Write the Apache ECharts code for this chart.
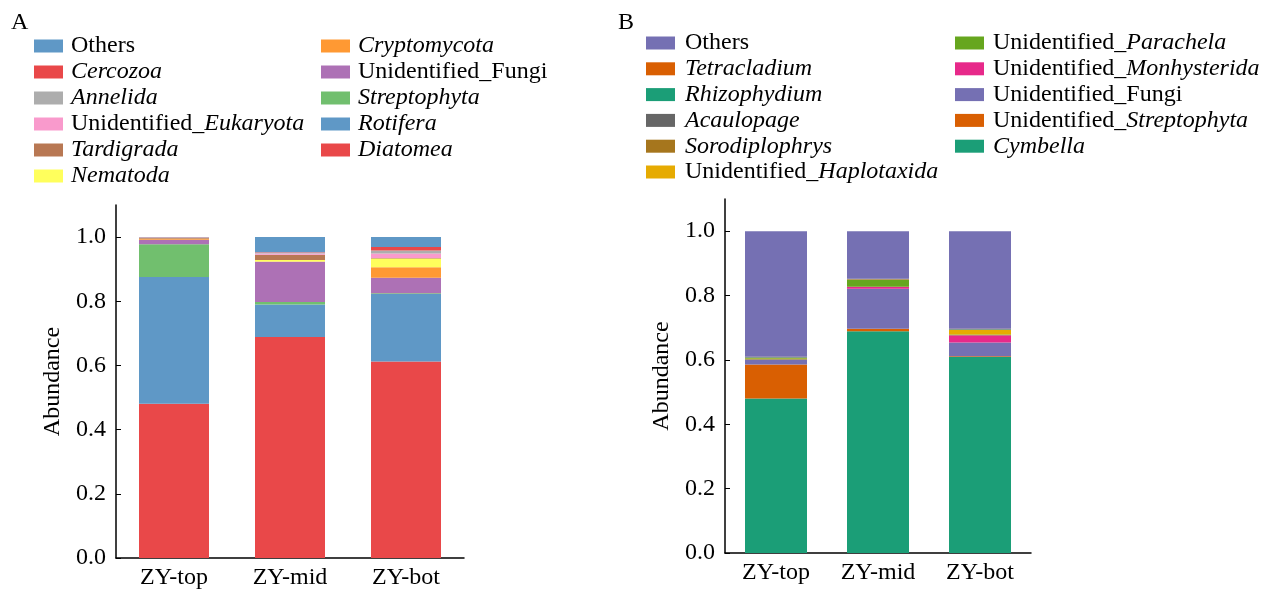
<!DOCTYPE html>
<html>
<head>
<meta charset="utf-8">
<script src="https://cdn.jsdelivr.net/npm/echarts@6/dist/echarts.min.js"></script>
<style>
  html, body { margin: 0; padding: 0; background: #fff; }
  #wrap { position: relative; width: 1262px; height: 590px; }
  #chartA { position: absolute; left: 0; top: 0; width: 610px; height: 590px; }
  #chartB { position: absolute; left: 600px; top: 0; width: 662px; height: 590px; }
</style>
</head>
<body>
<div id="wrap">
  <div id="chartA"></div>
  <div id="chartB"></div>
</div>
<script>
// Sampling layers
const samples = ['ZY-top', 'ZY-mid', 'ZY-bot'];
const yTicks = [0, 0.2, 0.4, 0.6, 0.8, 1.0];

// Panel A: phylum-level relative abundance (bottom of stack first)
const aDiatomea      = [0.481, 0.689, 0.612];
const aRotifera      = [0.395, 0.101, 0.211];
const aStreptophyta  = [0.102, 0.008, 0.002];
const aUnidFungi     = [0.014, 0.125, 0.048];
const aCryptomycota  = [0.002, 0.001, 0.033];
const aNematoda      = [0.001, 0.005, 0.027];
const aTardigrada    = [0.002, 0.016, 0.002];
const aUnidEukaryota = [0.001, 0.004, 0.014];
const aAnnelida      = [0.0005, 0.002, 0.009];
const aCercozoa      = [0.001, 0.002, 0.011];
const aOthers        = [0.0005, 0.047, 0.031];

// Panel B: genus-level relative abundance (bottom of stack first)
const bCymbella          = [0.480, 0.689, 0.609];
const bUnidStreptophyta  = [0.106, 0.008, 0.002];
const bUnidFungi         = [0.014, 0.124, 0.043];
const bUnidMonhysterida  = [0.001, 0.006, 0.023];
const bUnidParachela     = [0.004, 0.021, 0.002];
const bUnidHaplotaxida   = [0.001, 0.001, 0.014];
const bSorodiplophrys    = [0.001, 0.002, 0.001];
const bAcaulopage        = [0.001, 0.001, 0.001];
const bRhizophydium      = [0.001, 0.000, 0.001];
const bTetracladium      = [0.001, 0.000, 0.001];
const bOthers            = [0.390, 0.148, 0.303];

// Stack order (bottom to top) with names and colours
const seriesA = [
  ['Diatomea', aDiatomea, '#e94849'],
  ['Rotifera', aRotifera, '#5f98c6'],
  ['Streptophyta', aStreptophyta, '#71bf6e'],
  ['Unidentified_Fungi', aUnidFungi, '#ad71b5'],
  ['Cryptomycota', aCryptomycota, '#ff9933'],
  ['Nematoda', aNematoda, '#ffff5c'],
  ['Tardigrada', aTardigrada, '#b87853'],
  ['Unidentified_Eukaryota', aUnidEukaryota, '#f99acc'],
  ['Annelida', aAnnelida, '#adadad'],
  ['Cercozoa', aCercozoa, '#e94849'],
  ['Others', aOthers, '#5f98c6']
];
const seriesB = [
  ['Cymbella', bCymbella, '#1b9e77'],
  ['Unidentified_Streptophyta', bUnidStreptophyta, '#d95f02'],
  ['Unidentified_Fungi', bUnidFungi, '#7570b3'],
  ['Unidentified_Monhysterida', bUnidMonhysterida, '#e7298a'],
  ['Unidentified_Parachela', bUnidParachela, '#66a61e'],
  ['Unidentified_Haplotaxida', bUnidHaplotaxida, '#e6ab02'],
  ['Sorodiplophrys', bSorodiplophrys, '#a6761d'],
  ['Acaulopage', bAcaulopage, '#666666'],
  ['Rhizophydium', bRhizophydium, '#1b9e77'],
  ['Tetracladium', bTetracladium, '#d95f02'],
  ['Others', bOthers, '#7570b3']
];

const legendA1 = ['Others', 'Cercozoa', 'Annelida', 'Unidentified_Eukaryota', 'Tardigrada', 'Nematoda'];
const legendA2 = ['Cryptomycota', 'Unidentified_Fungi', 'Streptophyta', 'Rotifera', 'Diatomea'];
const legendB1 = ['Others', 'Tetracladium', 'Rhizophydium', 'Acaulopage', 'Sorodiplophrys', 'Unidentified_Haplotaxida'];
const legendB2 = ['Unidentified_Parachela', 'Unidentified_Monhysterida', 'Unidentified_Fungi', 'Unidentified_Streptophyta', 'Cymbella'];

const FONT = '"Liberation Serif", "Times New Roman", serif';
const FS = 24;

// Taxon names in italics, except "Others" and the "Unidentified_" prefix
function fmtName(name) {
  let s;
  if (name === 'Others' || name === 'Unidentified_Fungi') s = '{n|' + name + '}';
  else if (name.indexOf('Unidentified_') === 0) s = '{n|Unidentified_}{i|' + name.slice(13) + '}';
  else s = '{i|' + name + '}';
  return '{g|}' + s;
}

function makeLegend(data, left, top, gap, pad) {
  return {
    data: data,
    orient: 'vertical',
    left: left,
    top: top,
    icon: 'rect',
    itemWidth: 29,
    itemHeight: 13,
    itemGap: gap,
    padding: 0,
    formatter: fmtName,
    textStyle: {
      fontFamily: FONT, fontSize: FS, color: '#000', lineHeight: 24,
      rich: {
        g: { width: pad },
        n: { fontFamily: FONT, fontSize: FS, color: '#000' },
        i: { fontFamily: FONT, fontSize: FS, color: '#000', fontStyle: 'italic' }
      }
    }
  };
}

function makeOption(series, legends, gridLeft, gridTop, gridW, gridH, barW, panel, panelX) {
  return {
    animation: false,
    textStyle: { fontFamily: FONT },
    graphic: [{
      type: 'text', left: panelX, top: 11,
      style: { text: panel, font: FS + 'px ' + FONT, fill: '#000' }
    }],
    legend: legends,
    grid: { left: gridLeft, top: gridTop, width: gridW, height: gridH, containLabel: false },
    xAxis: {
      type: 'category',
      data: samples,
      axisLine: { lineStyle: { color: '#000', width: 1.5 } },
      axisTick: { show: false },
      axisLabel: { color: '#000', fontFamily: FONT, fontSize: FS, margin: 8 }
    },
    yAxis: {
      type: 'value',
      min: 0, max: 1.1, interval: 0.2,
      name: 'Abundance',
      nameLocation: 'middle',
      nameRotate: 90,
      nameGap: 51,
      nameTextStyle: { color: '#000', fontFamily: FONT, fontSize: FS },
      splitLine: { show: false },
      axisLine: { show: true, lineStyle: { color: '#000', width: 1.5 } },
      axisTick: { show: true, inside: true, length: 5, customValues: yTicks, lineStyle: { color: '#000' } },
      axisLabel: {
        color: '#000', fontFamily: FONT, fontSize: FS, margin: 10,
        customValues: yTicks,
        formatter: v => v.toFixed(1)
      }
    },
    series: series.map(s => ({
      name: s[0],
      type: 'bar',
      stack: 'total',
      barWidth: barW,
      data: s[1],
      itemStyle: { color: s[2] }
    }))
  };
}

const chartA = echarts.init(document.getElementById('chartA'), null, { renderer: 'canvas' });
chartA.setOption(makeOption(
  seriesA,
  [makeLegend(legendA1, 34, 34, 2, 3), makeLegend(legendA2, 321, 34, 2, 3)],
  116, 205, 348, 353, 70, 'A', 11
));

const chartB = echarts.init(document.getElementById('chartB'), null, { renderer: 'canvas' });
chartB.setOption(makeOption(
  seriesB,
  [makeLegend(legendB1, 46, 31, 1.8, 5), makeLegend(legendB2, 355, 31, 1.8, 4)],
  125, 199, 306, 354, 62, 'B', 18
));
</script>
</body>
</html>
